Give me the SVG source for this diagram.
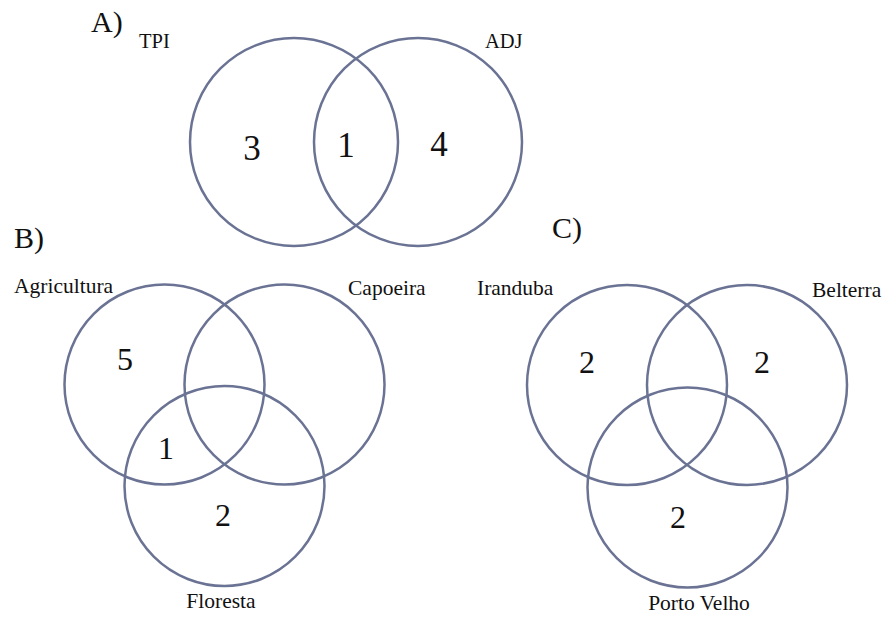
<svg xmlns="http://www.w3.org/2000/svg" width="890" height="618" viewBox="0 0 890 618">
  <style>
    .set { fill: none; stroke: #6b7394; stroke-width: 2.5; }
    text { font-family: 'Liberation Serif', 'DejaVu Serif', serif; fill: #111; }
    .panel { font-size: 30px; }
    .name { font-size: 21.5px; }
    .count { font-size: 32px; text-anchor: middle; }
    .countA { font-size: 35px; }
  </style>
  <rect width="890" height="618" fill="#ffffff"/>

  <g font-family="Liberation Serif, DejaVu Serif, serif">
  <!-- Panel A: two-set diagram -->
  <g id="panelA">
    <text class="panel" x="91" y="32">A)</text>
    <g id="setTPI">
      <circle class="set" cx="294" cy="142" r="104"/>
      <text class="name" x="139" y="48" style="font-size:20.5px">TPI</text>
    </g>
    <g id="setADJ">
      <circle class="set" cx="418" cy="142" r="104"/>
      <text class="name" x="485" y="48" style="font-size:20.5px">ADJ</text>
    </g>
    <text class="count countA" x="252" y="160">3</text>
    <text class="count countA" x="346" y="157">1</text>
    <text class="count countA" x="439" y="156">4</text>
  </g>

  <!-- Panel B: land-use types -->
  <g id="panelB">
    <text class="panel" x="14" y="248">B)</text>
    <g id="setAgricultura">
      <circle class="set" cx="164.5" cy="384.5" r="100"/>
      <text class="name" x="14" y="293">Agricultura</text>
    </g>
    <g id="setCapoeira">
      <circle class="set" cx="284.5" cy="384.5" r="100"/>
      <text class="name" x="348" y="295">Capoeira</text>
    </g>
    <g id="setFloresta">
      <circle class="set" cx="224.5" cy="486" r="100"/>
      <text class="name" x="221" y="608" text-anchor="middle">Floresta</text>
    </g>
    <text class="count" x="125" y="370">5</text>
    <text class="count" x="166" y="459">1</text>
    <text class="count" x="223" y="526">2</text>
  </g>

  <!-- Panel C: sites -->
  <g id="panelC">
    <text class="panel" x="552" y="238">C)</text>
    <g id="setIranduba">
      <circle class="set" cx="627" cy="385" r="100"/>
      <text class="name" x="477" y="295">Iranduba</text>
    </g>
    <g id="setBelterra">
      <circle class="set" cx="747" cy="385" r="100"/>
      <text class="name" x="812" y="297">Belterra</text>
    </g>
    <g id="setPortoVelho">
      <circle class="set" cx="687.5" cy="487.5" r="100"/>
      <text class="name" x="699" y="610" text-anchor="middle">Porto Velho</text>
    </g>
    <text class="count" x="587" y="373">2</text>
    <text class="count" x="762" y="373">2</text>
    <text class="count" x="678" y="528">2</text>
  </g>
  </g>

  <g id="connectors"/>
</svg>
